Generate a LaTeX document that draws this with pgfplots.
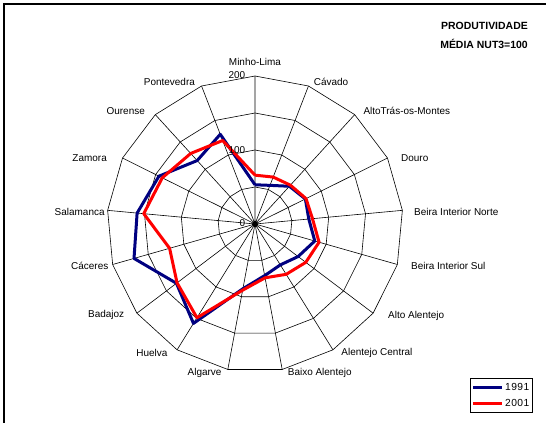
\documentclass[border=0pt]{standalone}
\usepackage{pgfplots}
\pgfplotsset{compat=1.18}
\usepackage{pgfplotstable}
\usepackage{fontspec}
\setmainfont{Liberation Sans}
\definecolor{navy}{RGB}{0,0,128}
\definecolor{pred}{RGB}{255,0,0}
\newcommand{\labfont}{\fontsize{10.3}{12}\selectfont\addfontfeature{LetterSpace=4}}

\pgfplotstableread{
ang v1991 v2001
90 53 66
68.824 56 68
47.647 69 71
26.471 76 77
5.294 73 78
-15.882 84 90
-37.059 73 86
-58.235 65 80
-79.412 71 74
-100.588 89 91
-121.765 158 149
-142.941 133 132
-164.118 170 120
174.706 160 151
153.529 145 140
132.353 116 129
111.176 130 121
90 53 66
}\datatable

\begin{document}
\begin{tikzpicture}
\useasboundingbox (0,0) rectangle (546bp,-423bp);
\begin{axis}[
  at={(0,0)}, anchor=north west,
  x=0.74bp, y=0.74bp,
  xmin=-344.6, xmax=393.2, ymin=-268.9, ymax=302.7,
  hide axis, clip=false,
  legend cell align=left,
  legend image code/.code={\draw[#1] (0cm,0cm) -- (1.0cm,0cm);},
  legend style={at={(axis cs:375.7,-208.5)}, anchor=north east,
    draw=black, line width=0.6pt, inner xsep=1.5pt, inner ysep=2.5pt, row sep=3.5pt,
    font=\labfont},
  every node/.style={font=\labfont},
]
% grid rings
\foreach \r in {50,100,150,200} {
  \addplot[black, line width=0.6pt, data cs=polar, forget plot] table[x=ang, y expr=\r] {\datatable};
}
% spokes
\addplot[black, line width=0.6pt, data cs=polar, forget plot] coordinates {
(0,0) (90,200) (0,0) (68.824,200) (0,0) (47.647,200) (0,0) (26.471,200)
(0,0) (5.294,200) (0,0) (-15.882,200) (0,0) (-37.059,200) (0,0) (-58.235,200)
(0,0) (-79.412,200) (0,0) (-100.588,200) (0,0) (-121.765,200) (0,0) (-142.941,200)
(0,0) (-164.118,200) (0,0) (174.706,200) (0,0) (153.529,200) (0,0) (132.353,200)
(0,0) (111.176,200) (0,0)};
% series
\addplot[navy, line width=3bp, line join=round, data cs=polar] table[x=ang, y=v1991] {\datatable};
\addlegendentry{1991}
\addplot[pred, line width=3bp, line join=round, data cs=polar] table[x=ang, y=v2001] {\datatable};
\addlegendentry{2001}
% value labels
\node[anchor=east, inner sep=0pt] at (axis cs:-13,201) {200};
\node[anchor=east, inner sep=0pt] at (axis cs:-13,100) {100};
\node[anchor=east, inner sep=0pt] at (axis cs:-13,1) {0};
% category labels
\node[inner sep=0pt] at (axis cs:0,219) {Minho-Lima};
\node[anchor=west, inner sep=0pt] at (axis cs:79.3,192.3) {Cávado};
\node[anchor=west, inner sep=0pt] at (axis cs:146.4,152.7) {AltoTrás-os-Montes};
\node[anchor=west, inner sep=0pt] at (axis cs:197.3,89.2) {Douro};
\node[anchor=west, inner sep=0pt] at (axis cs:214.9,16.2) {Beira Interior Norte};
\node[anchor=west, inner sep=0pt] at (axis cs:210.8,-56.8) {Beira Interior Sul};
\node[anchor=west, inner sep=0pt] at (axis cs:179.7,-124.3) {Alto Alentejo};
\node[anchor=west, inner sep=0pt] at (axis cs:116.6,-174.7) {Alentejo Central};
\node[anchor=west, inner sep=0pt] at (axis cs:44.2,-200.9) {Baixo Alentejo};
\node[anchor=east, inner sep=0pt] at (axis cs:-45,-200.9) {Algarve};
\node[anchor=east, inner sep=0pt] at (axis cs:-118,-173.9) {Huelva};
\node[anchor=east, inner sep=0pt] at (axis cs:-176.6,-123) {Badajoz};
\node[anchor=east, inner sep=0pt] at (axis cs:-198,-56.8) {Cáceres};
\node[anchor=east, inner sep=0pt] at (axis cs:-203,16.2) {Salamanca};
\node[anchor=east, inner sep=0pt] at (axis cs:-200,89.2) {Zamora};
\node[anchor=east, inner sep=0pt] at (axis cs:-148.6,152.7) {Ourense};
\node[anchor=east, inner sep=0pt] at (axis cs:-81,192.3) {Pontevedra};
% title
\node[anchor=east, inner sep=0pt, font=\fontsize{10.5}{12}\selectfont\bfseries] at (axis cs:368.9,267.6) {PRODUTIVIDADE};
\node[anchor=east, inner sep=0pt, font=\fontsize{10.5}{12}\selectfont\bfseries] at (axis cs:368.9,242.8) {MÉDIA NUT3=100};
\end{axis}
\draw[line width=1.5bp] (4bp,-423bp) -- (4bp,-4bp) -- (546bp,-4bp);
\end{tikzpicture}
\end{document}
